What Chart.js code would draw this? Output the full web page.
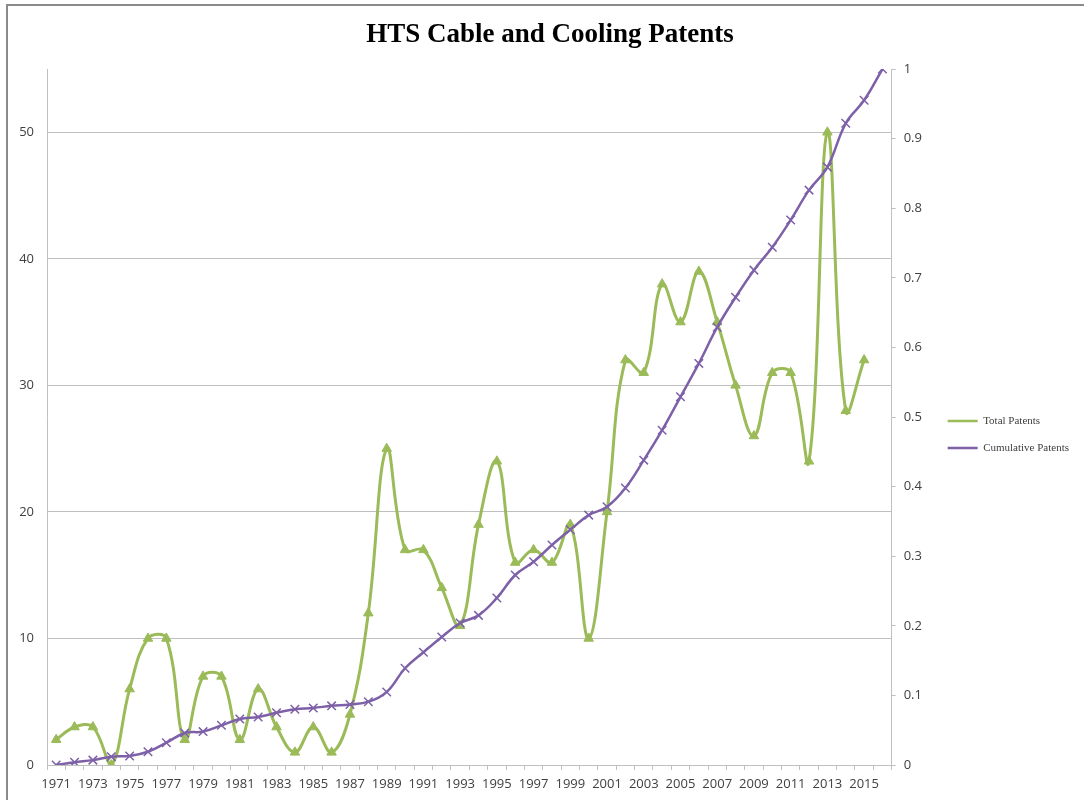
<!DOCTYPE html>
<html>
<head>
<meta charset="utf-8">
<script src="https://cdn.jsdelivr.net/npm/chart.js@4"></script>
<style>
  body { margin: 0; background: #fff; }
  #wrap { position: relative; width: 1084px; height: 800px; overflow: hidden; }
  #frame { position: absolute; left: 6px; top: 4px; width: 1200px; height: 900px;
           border-top: 2px solid #8a8a8a; border-left: 2px solid #8a8a8a; pointer-events: none; }
</style>
</head>
<body>
<div id="wrap">
  <canvas id="patentChart" width="1084" height="800"></canvas>
  <div id="frame"></div>
</div>
<script>
// --- data ---
const years = [];
for (let y = 1971; y <= 2016; y++) years.push(String(y));

const totalPatents = [
  2, 3, 3, 0, 6, 10, 10, 2, 7, 7,
  2, 6, 3, 1, 3, 1, 4, 12, 25, 17,
  17, 14, 11, 19, 24, 16, 17, 16, 19, 10,
  20, 32, 31, 38, 35, 39, 35, 30, 26, 31,
  31, 24, 50, 28, 32, null
];

const cumulativePatents = [
  0, 0.004, 0.007, 0.012, 0.013, 0.019, 0.032, 0.046, 0.048, 0.057,
  0.066, 0.069, 0.075, 0.080, 0.082, 0.085, 0.087, 0.091, 0.105, 0.139,
  0.162, 0.184, 0.204, 0.215, 0.240, 0.273, 0.292, 0.316, 0.338, 0.359,
  0.371, 0.398, 0.438, 0.481, 0.529, 0.577, 0.629, 0.672, 0.711, 0.744,
  0.783, 0.826, 0.859, 0.922, 0.955, 1.0
];

const GREEN = '#9bbb59';
const PURPLE = '#7d60a8';
const AXIS_GREY = '#bfbfbf';
const TICK_FONT = { family: 'Open Sans', size: 13 };

// title is centred over the whole picture, not the plot, so draw it by hand
const titlePlugin = {
    id: 'excelTitle',
    afterDraw(c) {
        const g = c.ctx;
        g.save();
        g.font = 'bold 27px "Liberation Serif"';
        g.fillStyle = '#000';
        g.textAlign = 'center';
        g.textBaseline = 'middle';
        g.fillText('HTS Cable and Cooling Patents', 550, 35);
        g.restore();
    }
};

const ctx = document.getElementById('patentChart').getContext('2d');

const chart = new Chart(ctx, {
    type: 'line',
    data: {
        labels: years,
        datasets: [
            {
                label: 'Total Patents',
                data: totalPatents,
                yAxisID: 'y',
                order: 1,
                borderColor: GREEN,
                backgroundColor: GREEN,
                borderWidth: 3,
                tension: 0.4,
                pointStyle: 'triangle',
                pointRadius: 5.5,
                pointBackgroundColor: GREEN,
                pointBorderColor: GREEN,
                pointBorderWidth: 1
            },
            {
                label: 'Cumulative Patents',
                data: cumulativePatents,
                yAxisID: 'y1',
                order: 0,
                borderColor: PURPLE,
                backgroundColor: PURPLE,
                borderWidth: 2.5,
                tension: 0.4,
                pointStyle: 'crossRot',
                pointRadius: 6,
                pointBorderColor: PURPLE,
                pointBorderWidth: 1.5
            }
        ]
    },
    options: {
        responsive: false,
        animation: false,
        layout: { padding: { left: 0, right: 5, top: 69, bottom: 0 } },
        scales: {
            x: {
                type: 'category',
                offset: true,
                grid: { display: true, drawOnChartArea: false, drawTicks: true, tickLength: 5, color: AXIS_GREY, offset: true },
                border: { color: AXIS_GREY },
                ticks: {
                    autoSkip: false,
                    maxRotation: 0,
                    minRotation: 0,
                    padding: 6,
                    color: '#404040',
                    font: { family: 'Open Sans', size: 13 },
                    // every other year is labelled
                    callback: function (val, i) { return i % 2 === 0 ? this.getLabelForValue(val) : ''; }
                },
                afterFit: (scale) => { scale.height = 35; }
            },
            y: {
                position: 'left',
                min: 0,
                max: 55,
                grid: { color: AXIS_GREY, drawTicks: false },
                border: { color: AXIS_GREY },
                ticks: { stepSize: 10, padding: 13, color: '#404040', font: TICK_FONT },
                afterBuildTicks: (scale) => { scale.ticks = scale.ticks.filter(t => t.value % 10 === 0); },
                afterFit: (scale) => { scale.width = 47; }
            },
            y1: {
                position: 'right',
                min: 0,
                max: 1,
                grid: { drawOnChartArea: false, drawTicks: true, tickLength: 4, color: AXIS_GREY },
                border: { color: AXIS_GREY },
                ticks: {
                    stepSize: 0.1,
                    padding: 8,
                    color: '#404040',
                    font: TICK_FONT,
                    callback: (v) => String(Math.round(v * 10) / 10)
                },
                afterFit: (scale) => { scale.width = 40; }
            }
        },
        plugins: {
            title: { display: false },
            legend: {
                position: 'right',
                labels: {
                    usePointStyle: true,
                    pointStyleWidth: 30,
                    boxHeight: 11,
                    padding: 16,
                    color: '#404040',
                    font: { family: 'Liberation Serif', size: 11 },
                    sort: (a, b) => a.datasetIndex - b.datasetIndex,
                    generateLabels: (c) => Chart.defaults.plugins.legend.labels.generateLabels(c).map((item) => ({
                        ...item,
                        pointStyle: 'line',
                        lineWidth: 2.5,
                        strokeStyle: c.data.datasets[item.datasetIndex].borderColor,
                        fillStyle: c.data.datasets[item.datasetIndex].borderColor
                    }))
                }
            },
            tooltip: { enabled: false }
        }
    },
    plugins: [titlePlugin]
});
</script>
</body>
</html>
